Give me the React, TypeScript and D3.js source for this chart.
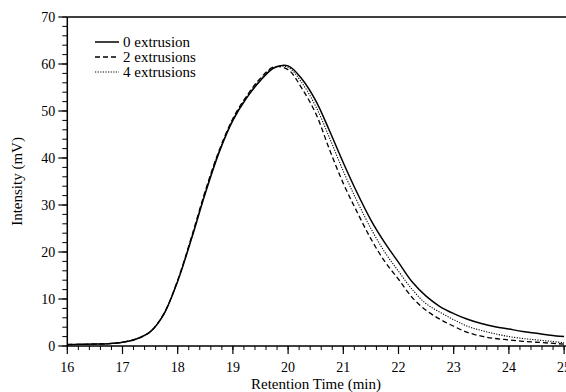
import React from "react";
import * as d3 from "d3";

const times = [16, 16.25, 16.5, 16.75, 17, 17.25, 17.5, 17.75, 18, 18.25, 18.5, 18.75, 19, 19.25, 19.5, 19.75, 20, 20.25, 20.5, 20.75, 21, 21.25, 21.5, 21.75, 22, 22.25, 22.5, 22.75, 23, 23.25, 23.5, 23.75, 24, 24.25, 24.5, 24.75, 25];

const ext0 = [0.3, 0.35, 0.4, 0.5, 0.8, 1.5, 3.0, 6.8, 13.8, 22.8, 32.5, 41.2, 48.0, 52.8, 56.5, 59.2, 59.6, 56.8, 52.2, 45.8, 39.0, 32.6, 26.8, 22.0, 17.8, 13.6, 10.6, 8.4, 6.9, 5.7, 4.8, 4.1, 3.6, 3.1, 2.7, 2.3, 2.0];
const ext2 = [0.3, 0.35, 0.4, 0.5, 0.8, 1.5, 3.0, 6.9, 14.0, 23.2, 33.0, 41.6, 48.4, 53.2, 57.0, 59.4, 58.8, 54.8, 49.5, 41.8, 34.6, 28.5, 22.8, 18.0, 14.2, 10.3, 7.6, 5.7, 4.2, 2.9, 2.1, 1.6, 1.3, 1.0, 0.8, 0.6, 0.4];
const ext4 = [0.3, 0.35, 0.4, 0.5, 0.8, 1.5, 3.0, 6.8, 13.9, 23.0, 32.7, 41.4, 48.2, 53.0, 56.8, 59.3, 59.3, 56.0, 51.0, 44.3, 37.2, 30.8, 25.0, 20.0, 15.9, 12.0, 9.0, 7.2, 5.6, 4.2, 3.3, 2.6, 2.0, 1.6, 1.3, 1.0, 0.7];

const seriesNames = ["0 extrusion", "2 extrusions", "4 extrusions"];
const seriesValues = [ext0, ext2, ext4];
const seriesDash = ["none", "5,3", "1.2,1.4"];
const seriesWidth = [1.5, 1.3, 1.1];

const xTicks = [16, 17, 18, 19, 20, 21, 22, 23, 24, 25];
const yTicks = [0, 10, 20, 30, 40, 50, 60, 70];

export default function App() {
  const left = 67.3;
  const top = 17;
  const bottom = 346;
  const x = d3.scaleLinear().domain([16, 25]).range([left, left + 9 * 55.2]);
  const y = d3.scaleLinear().domain([0, 70]).range([bottom, top]);
  const xMinor = d3.range(16, 25.001, 0.2).map((v) => Math.round(v * 10) / 10);
  const yMinor = d3.range(0, 70.001, 2);
  const line = d3
    .line<number>()
    .x((_, i) => x(times[i]))
    .y((d) => y(d))
    .curve(d3.curveCatmullRom.alpha(0.5));
  const font = "'Liberation Serif', 'Tinos', 'Noto Serif', 'DejaVu Serif', 'FreeSerif', 'Nimbus Roman', serif";
  return (
    <svg
      width={566}
      height={392}
      style={{ position: "absolute", left: 0, top: 0, background: "#fff", fontFamily: font }}
    >
      <rect width={566} height={392} fill="#fff" />
      {seriesValues.map((vals, i) => (
        <path
          key={i}
          d={line(vals) || ""}
          fill="none"
          stroke="#000"
          strokeWidth={seriesWidth[i]}
          strokeDasharray={seriesDash[i]}
        />
      ))}
      <line x1={left} x2={left} y1={top} y2={bottom} stroke="#000" strokeWidth={1.5} />
      <line x1={left} x2={566} y1={bottom} y2={bottom} stroke="#000" strokeWidth={1.5} />
      <line x1={left} x2={566} y1={top} y2={top} stroke="#000" strokeWidth={1.5} />
      {xMinor.map((v) => (
        <line key={"xm" + v} x1={x(v)} x2={x(v)} y1={bottom} y2={bottom + 4} stroke="#000" strokeWidth={1} />
      ))}
      {xTicks.map((v) => (
        <g key={"xt" + v}>
          <line x1={x(v)} x2={x(v)} y1={bottom} y2={bottom + 8} stroke="#000" strokeWidth={1.2} />
          <text x={x(v)} y={372} fontSize={14} textAnchor="middle">
            {v}
          </text>
        </g>
      ))}
      {yMinor.map((v) => (
        <line key={"ym" + v} x1={left - 5} x2={left} y1={y(v)} y2={y(v)} stroke="#000" strokeWidth={1} />
      ))}
      {yTicks.map((v) => (
        <g key={"yt" + v}>
          <line x1={left - 9} x2={left} y1={y(v)} y2={y(v)} stroke="#000" strokeWidth={1.2} />
          <text x={left - 12} y={y(v) + 4.5} fontSize={14} textAnchor="end">
            {v}
          </text>
        </g>
      ))}
      <text x={316} y={389} fontSize={15} textAnchor="middle">
        Retention Time (min)
      </text>
      <text
        transform={`translate(22, ${(top + bottom) / 2}) rotate(-90)`}
        fontSize={15}
        textAnchor="middle"
      >
        Intensity (mV)
      </text>
      {seriesNames.map((n, i) => (
        <g key={n}>
          <line
            x1={95}
            x2={119}
            y1={42 + i * 15}
            y2={42 + i * 15}
            stroke="#000"
            strokeWidth={seriesWidth[i]}
            strokeDasharray={seriesDash[i]}
          />
          <text x={123} y={46.5 + i * 15} fontSize={15}>
            {n}
          </text>
        </g>
      ))}
    </svg>
  );
}
